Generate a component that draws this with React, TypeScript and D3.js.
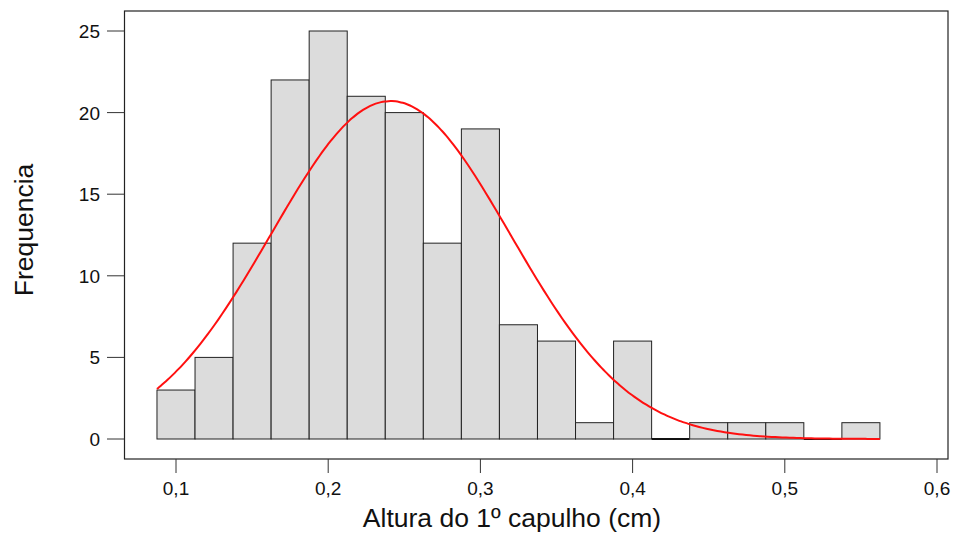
import React from "react";
import * as d3 from "d3";

// Histogram bins: lower edge of each class (cm) and count
const binStarts = [
  0.0875, 0.1125, 0.1375, 0.1625, 0.1875, 0.2125, 0.2375, 0.2625, 0.2875, 0.3125,
  0.3375, 0.3625, 0.3875, 0.4125, 0.4375, 0.4625, 0.4875, 0.5125, 0.5375,
];
const counts = [3, 5, 12, 22, 25, 21, 20, 12, 19, 7, 6, 1, 6, 0, 1, 1, 1, 0, 1];
const binWidth = 0.025;

// Fitted normal curve parameters
const fitMean = 0.241;
const fitSd = 0.0785;

const xTicks = [0.1, 0.2, 0.3, 0.4, 0.5, 0.6];
const yTicks = [0, 5, 10, 15, 20, 25];

const W = 953;
const H = 533;
const frame = { left: 124.5, right: 948, top: 11, bottom: 459 };

export default function App() {
  const x = d3
    .scaleLinear()
    .domain([0.1, 0.6])
    .range([176, 937]);
  const y = d3
    .scaleLinear()
    .domain([0, 25])
    .range([439, 31]);

  const total = d3.sum(counts);
  const lo = binStarts[0];
  const hi = binStarts[binStarts.length - 1] + binWidth;
  const curvePts: [number, number][] = d3.range(0, 201).map((i) => {
    const v = lo + ((hi - lo) * i) / 200;
    const z = (v - fitMean) / fitSd;
    const dens = Math.exp(-0.5 * z * z) / (fitSd * Math.sqrt(2 * Math.PI));
    return [v, total * binWidth * dens];
  });
  const line = d3
    .line<[number, number]>()
    .x((d) => x(d[0]))
    .y((d) => y(d[1]))
    .curve(d3.curveBasis);

  const fmtX = (v: number) => v.toFixed(1).replace(".", ",");
  const fmtY = (v: number) => String(v);
  const font = "'Liberation Sans', Arial, sans-serif";

  return (
    <svg
      width={W}
      height={H}
      style={{ position: "absolute", left: 0, top: 0, background: "#fff" }}
      fontFamily={font}
    >
      {/* bars; empty classes are drawn as a flat edge on the baseline */}
      {counts.map((c, i) => {
        const x0 = x(binStarts[i]);
        const x1 = x(binStarts[i] + binWidth);
        return c > 0 ? (
          <rect
            key={i}
            x={x0}
            y={y(c)}
            width={x1 - x0}
            height={y(0) - y(c)}
            fill="#dcdcdc"
            stroke="#222"
            strokeWidth={1}
          />
        ) : (
          <path
            key={i}
            d={`M${x0},${y(0)}H${x1}`}
            stroke="#111"
            strokeWidth={2}
            fill="none"
          />
        );
      })}
      {/* fitted curve */}
      <path d={line(curvePts) || ""} fill="none" stroke="#ff1010" strokeWidth={2} />
      {/* frame */}
      <rect
        x={frame.left}
        y={frame.top}
        width={frame.right - frame.left}
        height={frame.bottom - frame.top}
        fill="none"
        stroke="#222"
        strokeWidth={1.2}
      />
      {/* y axis ticks */}
      {yTicks.map((t) => (
        <g key={t}>
          <line x1={107} x2={frame.left} y1={y(t)} y2={y(t)} stroke="#333" strokeWidth={1} />
          <text x={100} y={y(t) + 7} textAnchor="end" fontSize={19} fill="#111">
            {fmtY(t)}
          </text>
        </g>
      ))}
      {/* x axis ticks */}
      {xTicks.map((t) => (
        <g key={t}>
          <line x1={x(t)} x2={x(t)} y1={frame.bottom} y2={473} stroke="#333" strokeWidth={1} />
          <text x={x(t)} y={495} textAnchor="middle" fontSize={19} fill="#111">
            {fmtX(t)}
          </text>
        </g>
      ))}
      <text x={512} y={527} textAnchor="middle" fontSize={26.5} fill="#111">
        Altura do 1º capulho (cm)
      </text>
      <text
        transform={`translate(33,230) rotate(-90)`}
        textAnchor="middle"
        fontSize={26.5}
        fill="#111"
      >
        Frequencia
      </text>
    </svg>
  );
}
